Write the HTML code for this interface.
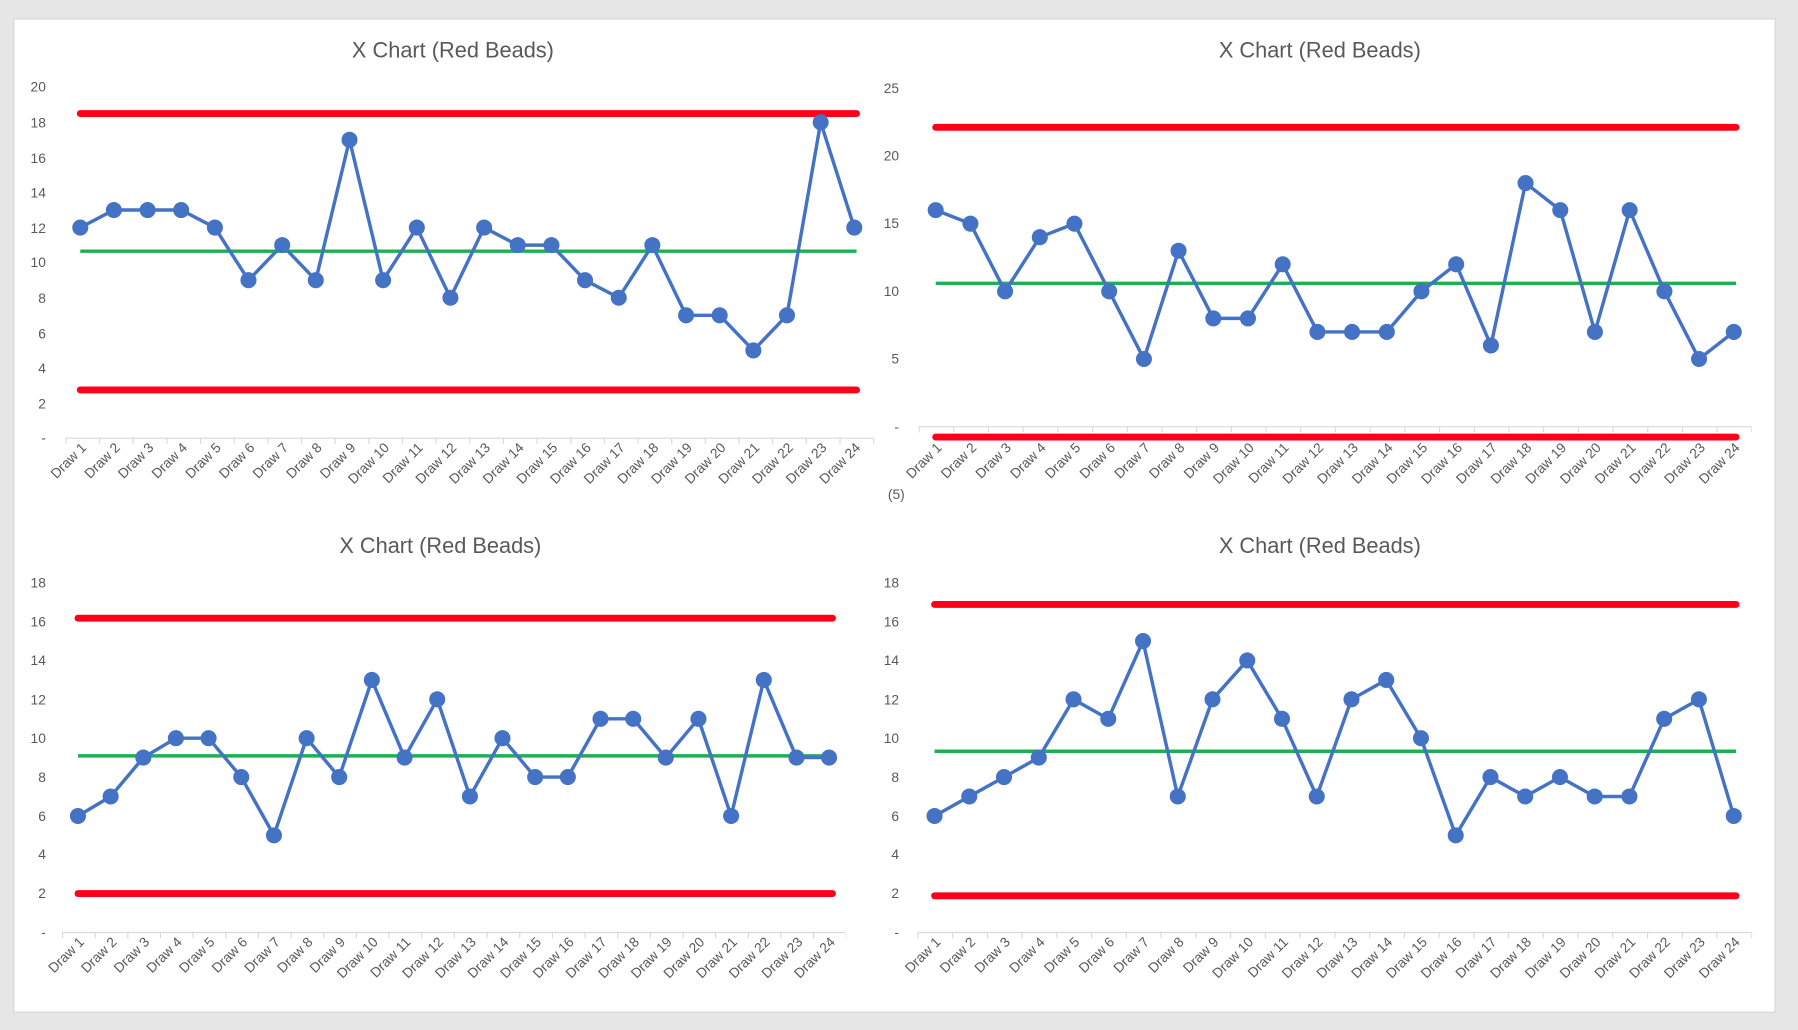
<!DOCTYPE html>
<html><head><meta charset="utf-8"><style>
html,body{margin:0;padding:0;background:#e6e6e6;}
svg{display:block;}
text{font-family:"Liberation Sans",sans-serif;fill:#595959;}
.t{font-size:19px;text-anchor:middle;}
.y{font-size:12px;text-anchor:end;}
.x{font-size:12px;text-anchor:end;}
.s{fill:none;stroke:#4472C4;stroke-width:3;stroke-linejoin:round;marker-start:url(#m);marker-mid:url(#m);marker-end:url(#m);}
.r{stroke:#FF0018;stroke-width:6;stroke-linecap:round;}
.g{stroke:#1DB050;stroke-width:3;}
.a{stroke:#d9d9d9;stroke-width:1;}
</style></head><body>
<svg width="1798" height="1030" viewBox="0 0 1568 898" preserveAspectRatio="none">
<defs><marker id="m" markerUnits="userSpaceOnUse" markerWidth="16" markerHeight="16" refX="8" refY="8" overflow="visible"><circle cx="8" cy="8" r="7" fill="#4472C4"/></marker></defs>
<rect x="0" y="0" width="1568" height="898" fill="#e6e6e6"/>
<rect x="12" y="16.5" width="1536" height="866" fill="#fff" stroke="#d6d6d6" stroke-width="1"/>

<!-- TL -->
<text class="t" x="395" y="50">X Chart (Red Beads)</text>
<g class="y"><text class="y" x="40" y="80">20</text><text class="y" x="40" y="111">18</text><text class="y" x="40" y="142">16</text><text class="y" x="40" y="172">14</text><text class="y" x="40" y="203">12</text><text class="y" x="40" y="233">10</text><text class="y" x="40" y="264">8</text><text class="y" x="40" y="295">6</text><text class="y" x="40" y="325">4</text><text class="y" x="40" y="356">2</text><text class="y" x="40" y="386">-</text></g>
<line class="a" x1="57" y1="382" x2="762" y2="382"/>
<line x1="57" y1="384.5" x2="763" y2="384.5" stroke="#d9d9d9" stroke-width="5" stroke-dasharray="1 28.35"/>
<line class="r" x1="70" y1="99" x2="747" y2="99"/>
<line class="r" x1="70" y1="340" x2="747" y2="340"/>
<line class="g" x1="70" y1="219" x2="747" y2="219"/>
<polyline class="s" points="70,198.4 99.3,183.1 128.7,183.1 158,183.1 187.4,198.4 216.7,244.3 246.1,213.7 275.4,244.3 304.8,121.9 334.1,244.3 363.5,198.4 392.8,259.6 422.2,198.4 451.5,213.7 480.9,213.7 510.2,244.3 539.6,259.6 568.9,213.7 598.3,274.9 627.6,274.9 657,305.5 686.3,274.9 715.7,106.6 745,198.4"/>
<g>
<text class="x" transform="translate(76,391) rotate(-45)">Draw 1</text><text class="x" transform="translate(105.3,391) rotate(-45)">Draw 2</text><text class="x" transform="translate(134.7,391) rotate(-45)">Draw 3</text><text class="x" transform="translate(164,391) rotate(-45)">Draw 4</text><text class="x" transform="translate(193.4,391) rotate(-45)">Draw 5</text><text class="x" transform="translate(222.7,391) rotate(-45)">Draw 6</text><text class="x" transform="translate(252.1,391) rotate(-45)">Draw 7</text><text class="x" transform="translate(281.4,391) rotate(-45)">Draw 8</text><text class="x" transform="translate(310.8,391) rotate(-45)">Draw 9</text><text class="x" transform="translate(340.1,391) rotate(-45)">Draw 10</text><text class="x" transform="translate(369.5,391) rotate(-45)">Draw 11</text><text class="x" transform="translate(398.8,391) rotate(-45)">Draw 12</text><text class="x" transform="translate(428.2,391) rotate(-45)">Draw 13</text><text class="x" transform="translate(457.5,391) rotate(-45)">Draw 14</text><text class="x" transform="translate(486.9,391) rotate(-45)">Draw 15</text><text class="x" transform="translate(516.2,391) rotate(-45)">Draw 16</text><text class="x" transform="translate(545.6,391) rotate(-45)">Draw 17</text><text class="x" transform="translate(574.9,391) rotate(-45)">Draw 18</text><text class="x" transform="translate(604.3,391) rotate(-45)">Draw 19</text><text class="x" transform="translate(633.6,391) rotate(-45)">Draw 20</text><text class="x" transform="translate(663,391) rotate(-45)">Draw 21</text><text class="x" transform="translate(692.3,391) rotate(-45)">Draw 22</text><text class="x" transform="translate(721.7,391) rotate(-45)">Draw 23</text><text class="x" transform="translate(751,391) rotate(-45)">Draw 24</text>
</g>

<!-- TR -->
<text class="t" x="1151" y="50">X Chart (Red Beads)</text>
<text class="y" x="784" y="81">25</text><text class="y" x="784" y="140">20</text><text class="y" x="784" y="199">15</text><text class="y" x="784" y="258">10</text><text class="y" x="784" y="317">5</text><text class="y" x="784" y="376">-</text><text class="y" x="789" y="435">(5)</text>
<line class="a" x1="801" y1="372" x2="1527" y2="372"/>
<line x1="801" y1="374.5" x2="1528" y2="374.5" stroke="#d9d9d9" stroke-width="5" stroke-dasharray="1 29.26"/>
<line class="r" x1="816" y1="111" x2="1514" y2="111"/>
<line class="r" x1="816" y1="381" x2="1514" y2="381"/>
<line class="g" x1="816" y1="247" x2="1514" y2="247"/>
<polyline class="s" points="816,183.2 846.3,195 876.5,254 906.8,206.8 937,195 967.3,254 997.6,313 1027.8,218.6 1058.1,277.6 1088.3,277.6 1118.6,230.4 1148.9,289.4 1179.1,289.4 1209.4,289.4 1239.6,254 1269.9,230.4 1300.2,301.2 1330.4,159.6 1360.7,183.2 1390.9,289.4 1421.2,183.2 1451.5,254 1481.7,313 1512,289.4"/>
<g>
<text class="x" transform="translate(822,391) rotate(-45)">Draw 1</text><text class="x" transform="translate(852.3,391) rotate(-45)">Draw 2</text><text class="x" transform="translate(882.5,391) rotate(-45)">Draw 3</text><text class="x" transform="translate(912.8,391) rotate(-45)">Draw 4</text><text class="x" transform="translate(943,391) rotate(-45)">Draw 5</text><text class="x" transform="translate(973.3,391) rotate(-45)">Draw 6</text><text class="x" transform="translate(1003.6,391) rotate(-45)">Draw 7</text><text class="x" transform="translate(1033.8,391) rotate(-45)">Draw 8</text><text class="x" transform="translate(1064.1,391) rotate(-45)">Draw 9</text><text class="x" transform="translate(1094.3,391) rotate(-45)">Draw 10</text><text class="x" transform="translate(1124.6,391) rotate(-45)">Draw 11</text><text class="x" transform="translate(1154.9,391) rotate(-45)">Draw 12</text><text class="x" transform="translate(1185.1,391) rotate(-45)">Draw 13</text><text class="x" transform="translate(1215.4,391) rotate(-45)">Draw 14</text><text class="x" transform="translate(1245.6,391) rotate(-45)">Draw 15</text><text class="x" transform="translate(1275.9,391) rotate(-45)">Draw 16</text><text class="x" transform="translate(1306.2,391) rotate(-45)">Draw 17</text><text class="x" transform="translate(1336.4,391) rotate(-45)">Draw 18</text><text class="x" transform="translate(1366.7,391) rotate(-45)">Draw 19</text><text class="x" transform="translate(1396.9,391) rotate(-45)">Draw 20</text><text class="x" transform="translate(1427.2,391) rotate(-45)">Draw 21</text><text class="x" transform="translate(1457.5,391) rotate(-45)">Draw 22</text><text class="x" transform="translate(1487.7,391) rotate(-45)">Draw 23</text><text class="x" transform="translate(1518,391) rotate(-45)">Draw 24</text>
</g>

<!-- BL -->
<text class="t" x="384" y="482">X Chart (Red Beads)</text>
<text class="y" x="40" y="512">18</text><text class="y" x="40" y="546">16</text><text class="y" x="40" y="580">14</text><text class="y" x="40" y="614">12</text><text class="y" x="40" y="648">10</text><text class="y" x="40" y="682">8</text><text class="y" x="40" y="716">6</text><text class="y" x="40" y="749">4</text><text class="y" x="40" y="783">2</text><text class="y" x="40" y="817">-</text>
<line class="a" x1="54" y1="813" x2="737" y2="813"/>
<line x1="54" y1="815.5" x2="738" y2="815.5" stroke="#d9d9d9" stroke-width="5" stroke-dasharray="1 27.48"/>
<line class="r" x1="68" y1="539" x2="726" y2="539"/>
<line class="r" x1="68" y1="779" x2="726" y2="779"/>
<line class="g" x1="68" y1="659" x2="726" y2="659"/>
<polyline class="s" points="68,711.4 96.5,694.4 125,660.5 153.4,643.6 181.9,643.6 210.4,677.5 238.9,728.3 267.4,643.6 295.8,677.5 324.3,592.8 352.8,660.5 381.3,609.7 409.8,694.4 438.2,643.6 466.7,677.5 495.2,677.5 523.7,626.7 552.2,626.7 580.6,660.5 609.1,626.7 637.6,711.4 666.1,592.8 694.6,660.5 723,660.5"/>
<g>
<text class="x" transform="translate(74,822) rotate(-45)">Draw 1</text><text class="x" transform="translate(102.5,822) rotate(-45)">Draw 2</text><text class="x" transform="translate(131,822) rotate(-45)">Draw 3</text><text class="x" transform="translate(159.4,822) rotate(-45)">Draw 4</text><text class="x" transform="translate(187.9,822) rotate(-45)">Draw 5</text><text class="x" transform="translate(216.4,822) rotate(-45)">Draw 6</text><text class="x" transform="translate(244.9,822) rotate(-45)">Draw 7</text><text class="x" transform="translate(273.4,822) rotate(-45)">Draw 8</text><text class="x" transform="translate(301.8,822) rotate(-45)">Draw 9</text><text class="x" transform="translate(330.3,822) rotate(-45)">Draw 10</text><text class="x" transform="translate(358.8,822) rotate(-45)">Draw 11</text><text class="x" transform="translate(387.3,822) rotate(-45)">Draw 12</text><text class="x" transform="translate(415.8,822) rotate(-45)">Draw 13</text><text class="x" transform="translate(444.2,822) rotate(-45)">Draw 14</text><text class="x" transform="translate(472.7,822) rotate(-45)">Draw 15</text><text class="x" transform="translate(501.2,822) rotate(-45)">Draw 16</text><text class="x" transform="translate(529.7,822) rotate(-45)">Draw 17</text><text class="x" transform="translate(558.2,822) rotate(-45)">Draw 18</text><text class="x" transform="translate(586.6,822) rotate(-45)">Draw 19</text><text class="x" transform="translate(615.1,822) rotate(-45)">Draw 20</text><text class="x" transform="translate(643.6,822) rotate(-45)">Draw 21</text><text class="x" transform="translate(672.1,822) rotate(-45)">Draw 22</text><text class="x" transform="translate(700.6,822) rotate(-45)">Draw 23</text><text class="x" transform="translate(729,822) rotate(-45)">Draw 24</text>
</g>

<!-- BR -->
<text class="t" x="1151" y="482">X Chart (Red Beads)</text>
<text class="y" x="784" y="512">18</text><text class="y" x="784" y="546">16</text><text class="y" x="784" y="580">14</text><text class="y" x="784" y="614">12</text><text class="y" x="784" y="648">10</text><text class="y" x="784" y="682">8</text><text class="y" x="784" y="716">6</text><text class="y" x="784" y="749">4</text><text class="y" x="784" y="783">2</text><text class="y" x="784" y="817">-</text>
<line class="a" x1="800" y1="813" x2="1527" y2="813"/>
<line x1="800" y1="815.5" x2="1528" y2="815.5" stroke="#d9d9d9" stroke-width="5" stroke-dasharray="1 29.3"/>
<line class="r" x1="815" y1="527" x2="1514" y2="527"/>
<line class="r" x1="815" y1="781" x2="1514" y2="781"/>
<line class="g" x1="815" y1="655" x2="1514" y2="655"/>
<polyline class="s" points="815,711.4 845.3,694.4 875.6,677.5 905.9,660.5 936.2,609.7 966.5,626.7 996.8,558.9 1027.1,694.4 1057.4,609.7 1087.7,575.8 1118,626.7 1148.3,694.4 1178.6,609.7 1208.9,592.8 1239.2,643.6 1269.5,728.3 1299.8,677.5 1330.1,694.4 1360.4,677.5 1390.7,694.4 1421,694.4 1451.3,626.7 1481.6,609.7 1512,711.4"/>
<g>
<text class="x" transform="translate(821,822) rotate(-45)">Draw 1</text><text class="x" transform="translate(851.3,822) rotate(-45)">Draw 2</text><text class="x" transform="translate(881.6,822) rotate(-45)">Draw 3</text><text class="x" transform="translate(911.9,822) rotate(-45)">Draw 4</text><text class="x" transform="translate(942.2,822) rotate(-45)">Draw 5</text><text class="x" transform="translate(972.5,822) rotate(-45)">Draw 6</text><text class="x" transform="translate(1002.8,822) rotate(-45)">Draw 7</text><text class="x" transform="translate(1033.1,822) rotate(-45)">Draw 8</text><text class="x" transform="translate(1063.4,822) rotate(-45)">Draw 9</text><text class="x" transform="translate(1093.7,822) rotate(-45)">Draw 10</text><text class="x" transform="translate(1124,822) rotate(-45)">Draw 11</text><text class="x" transform="translate(1154.3,822) rotate(-45)">Draw 12</text><text class="x" transform="translate(1184.6,822) rotate(-45)">Draw 13</text><text class="x" transform="translate(1214.9,822) rotate(-45)">Draw 14</text><text class="x" transform="translate(1245.2,822) rotate(-45)">Draw 15</text><text class="x" transform="translate(1275.5,822) rotate(-45)">Draw 16</text><text class="x" transform="translate(1305.8,822) rotate(-45)">Draw 17</text><text class="x" transform="translate(1336.1,822) rotate(-45)">Draw 18</text><text class="x" transform="translate(1366.4,822) rotate(-45)">Draw 19</text><text class="x" transform="translate(1396.7,822) rotate(-45)">Draw 20</text><text class="x" transform="translate(1427,822) rotate(-45)">Draw 21</text><text class="x" transform="translate(1457.3,822) rotate(-45)">Draw 22</text><text class="x" transform="translate(1487.6,822) rotate(-45)">Draw 23</text><text class="x" transform="translate(1518,822) rotate(-45)">Draw 24</text>
</g>
</svg>
</body></html>
